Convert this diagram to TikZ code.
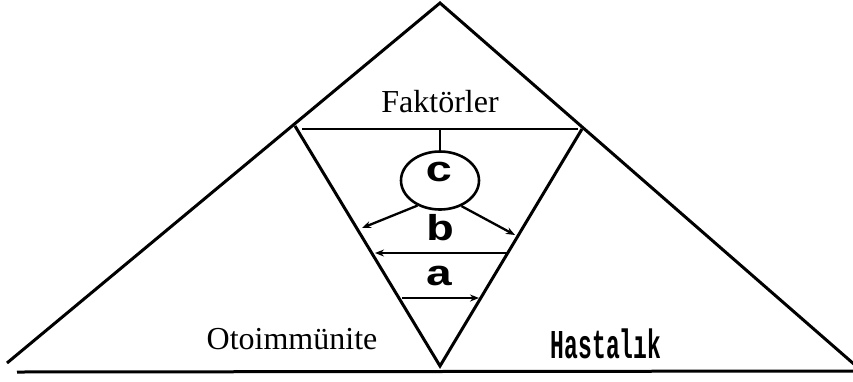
\documentclass[tikz,border=0pt]{standalone}
\usepackage{fontspec}
\setmainfont{Liberation Serif}
\setmonofont{Liberation Mono}
\usetikzlibrary{shapes.geometric,arrows.meta}
\tikzset{
  heavy/.style={line width=3pt, line join=miter},
  medium/.style={line width=2.6pt},
  arr/.style={line width=2.3pt, -{Stealth[length=9pt,width=7pt]}},
  serifl/.style={font=\fontsize{32}{32}\selectfont, inner sep=0pt, anchor=base},
  monol/.style={font=\fontsize{36}{36}\selectfont\ttfamily\bfseries, inner sep=0pt},
}
\newcommand{\widett}[1]{\scalebox{1.3}[1]{#1}}
\newcommand{\narrowtt}[1]{\scalebox{0.56}[1]{#1}}
\begin{document}
\begin{tikzpicture}[x=1pt,y=-1pt]
\useasboundingbox (0,0) rectangle (853,381);
% big triangle
\coordinate (apex) at (440,3);
\coordinate (bl) at (7,363);
\coordinate (br) at (855,365);
\draw[heavy] (bl) -- (apex) -- (br);
% baseline
\coordinate (b0) at (17,372);
\coordinate (b1) at (853,371);
\draw[heavy] (b0) -- (b1);
% inverted triangle
\coordinate (tl) at (295,126);
\coordinate (tr) at (582,129);
\coordinate (bot) at (440,366);
\draw[heavy] (tl) -- (bot) -- (tr);
\coordinate (h0) at (302,129);
\coordinate (h1) at (578,129);
\draw[medium] (h0) -- (h1);
% ellipse c
\node[draw, ellipse, line width=2.6pt, minimum width=78pt, minimum height=58pt, inner sep=0pt] (c) at (440,180.5) {};
\node[monol] (clab) at (440,172) {\widett{c}};
\coordinate (stem) at (440,129);
\draw[medium] (stem) -- (c.north);
% arrows from c to edges
\coordinate (la) at (362,228);
\coordinate (ra) at (515,235);
\draw[arr] (c.228) -- (la);
\draw[arr] (c.310) -- (ra);
% b arrow (pointing left)
\coordinate (bR) at (507,253);
\coordinate (bL) at (375,253);
\draw[arr] (bR) -- (bL);
\node[monol] (blab) at (441,228) {\widett{b}};
% a arrow (pointing right)
\coordinate (aL) at (402,298);
\coordinate (aR) at (479,298);
\draw[arr] (aL) -- (aR);
\node[monol] (alab) at (440,276) {\widett{a}};
% labels
\node[serifl] (fak) at (440,112) {Faktörler};
\node[serifl] (oto) at (292,349) {Otoimmünite};
\node[font=\fontsize{41}{41}\selectfont\ttfamily\bfseries, inner sep=0pt, anchor=base] (has) at (606,358) {\narrowtt{Hastalık}};
\end{tikzpicture}
\end{document}
